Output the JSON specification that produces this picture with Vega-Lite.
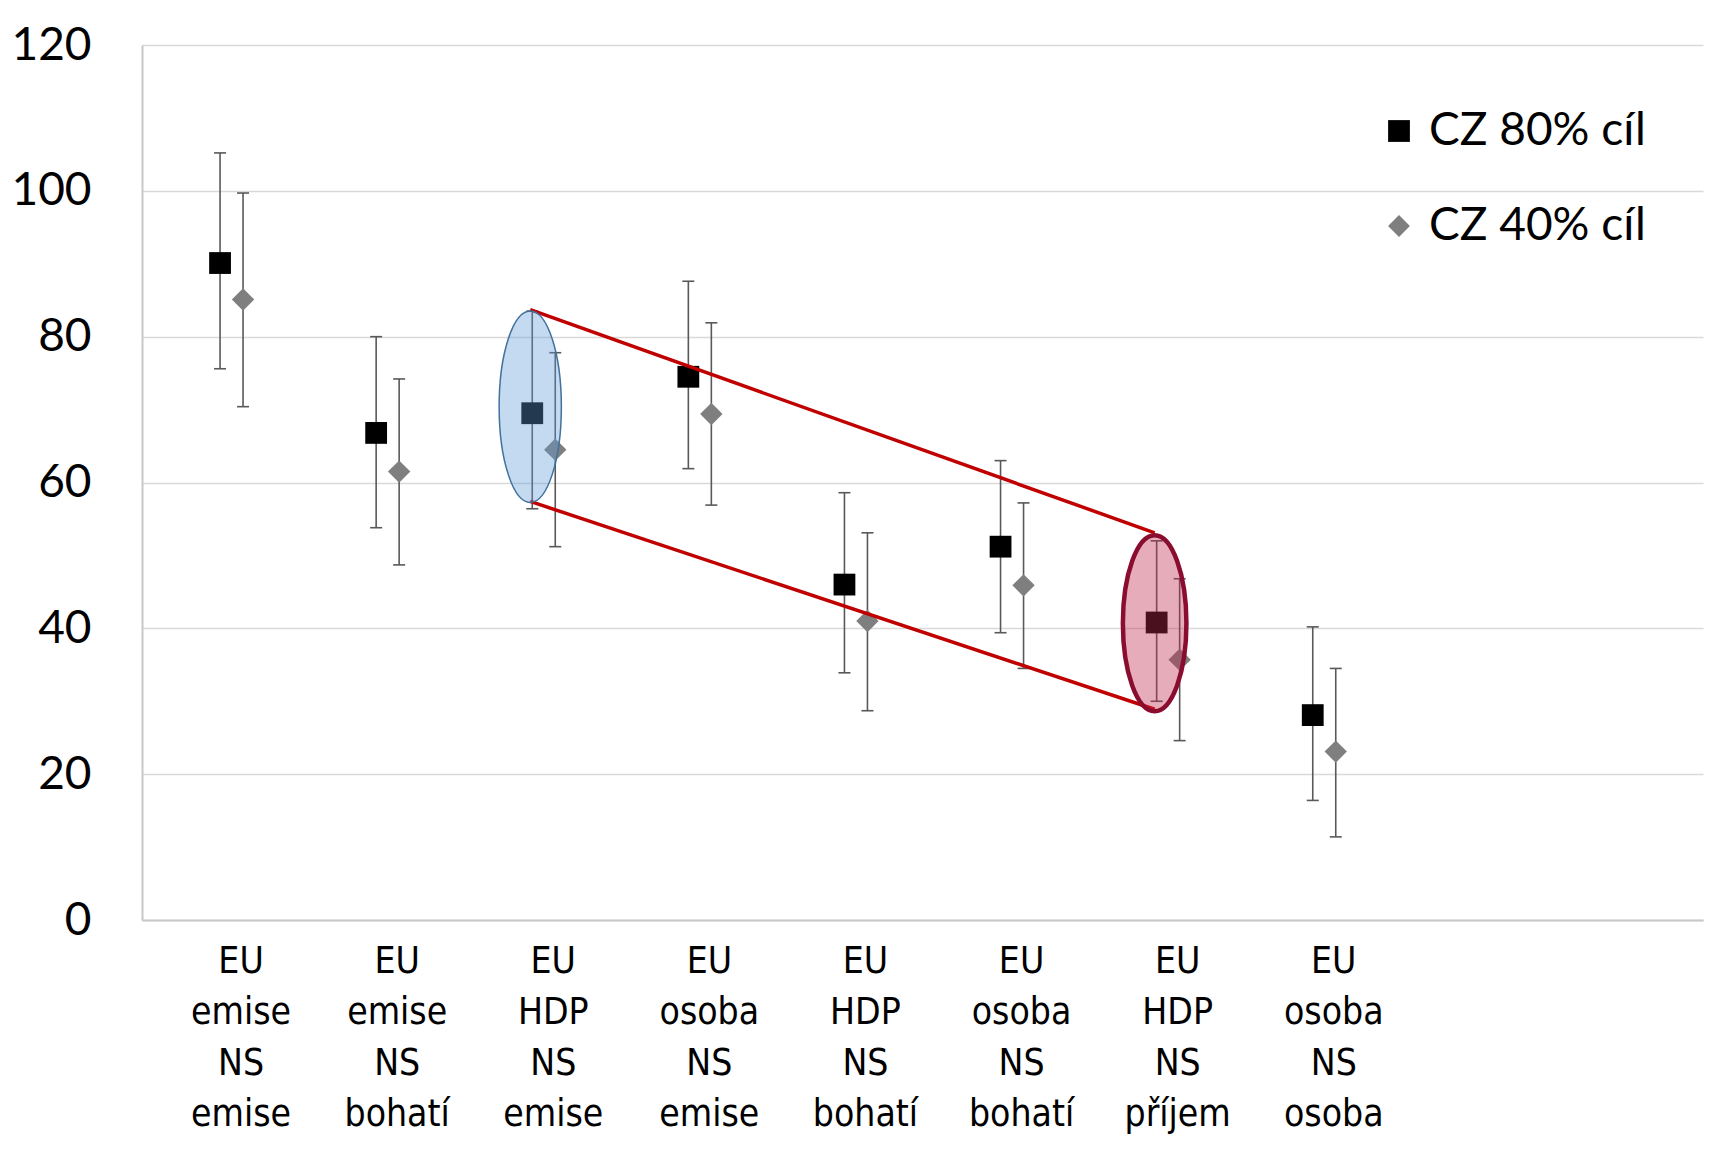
{
  "$schema": "https://vega.github.io/schema/vega-lite/v6.json",
  "autosize": "none",
  "width": 1561,
  "height": 875,
  "padding": {"left": 142, "top": 45, "right": 16, "bottom": 237},
  "background": "white",
  "config": {"view": {"stroke": null}},
  "datasets": {
    "body": [
      {"kat": "EU|emise|NS|emise", "rada": "CZ 80% cíl", "stred": 90.1, "lo": 75.6, "hi": 105.2},
      {"kat": "EU|emise|NS|bohatí", "rada": "CZ 80% cíl", "stred": 66.8, "lo": 53.8, "hi": 80.0},
      {"kat": "EU|HDP|NS|emise", "rada": "CZ 80% cíl", "stred": 69.5, "lo": 56.4, "hi": 83.5},
      {"kat": "EU|osoba|NS|emise", "rada": "CZ 80% cíl", "stred": 74.5, "lo": 61.9, "hi": 87.6},
      {"kat": "EU|HDP|NS|bohatí", "rada": "CZ 80% cíl", "stred": 46.0, "lo": 33.9, "hi": 58.6},
      {"kat": "EU|osoba|NS|bohatí", "rada": "CZ 80% cíl", "stred": 51.2, "lo": 39.4, "hi": 63.0},
      {"kat": "EU|HDP|NS|příjem", "rada": "CZ 80% cíl", "stred": 40.8, "lo": 30.0, "hi": 52.0},
      {"kat": "EU|osoba|NS|osoba", "rada": "CZ 80% cíl", "stred": 28.1, "lo": 16.4, "hi": 40.2},
      {"kat": "EU|emise|NS|emise", "rada": "CZ 40% cíl", "stred": 85.1, "lo": 70.4, "hi": 99.7},
      {"kat": "EU|emise|NS|bohatí", "rada": "CZ 40% cíl", "stred": 61.5, "lo": 48.7, "hi": 74.2},
      {"kat": "EU|HDP|NS|emise", "rada": "CZ 40% cíl", "stred": 64.5, "lo": 51.2, "hi": 77.8},
      {"kat": "EU|osoba|NS|emise", "rada": "CZ 40% cíl", "stred": 69.4, "lo": 56.9, "hi": 81.9},
      {"kat": "EU|HDP|NS|bohatí", "rada": "CZ 40% cíl", "stred": 41.0, "lo": 28.7, "hi": 53.1},
      {"kat": "EU|osoba|NS|bohatí", "rada": "CZ 40% cíl", "stred": 45.9, "lo": 34.5, "hi": 57.2},
      {"kat": "EU|HDP|NS|příjem", "rada": "CZ 40% cíl", "stred": 35.7, "lo": 24.6, "hi": 46.8},
      {"kat": "EU|osoba|NS|osoba", "rada": "CZ 40% cíl", "stred": 23.1, "lo": 11.4, "hi": 34.5}
    ],
    "elipsy": [
      {"kat": "EU|HDP|NS|emise", "typ": "modra", "stred": 70.4},
      {"kat": "EU|HDP|NS|příjem", "typ": "cervena", "stred": 40.7}
    ],
    "spojnice": [
      {"hrana": "horni", "kat": "EU|HDP|NS|emise", "y": 83.7},
      {"hrana": "horni", "kat": "EU|HDP|NS|příjem", "y": 53.1},
      {"hrana": "dolni", "kat": "EU|HDP|NS|emise", "y": 57.4},
      {"hrana": "dolni", "kat": "EU|HDP|NS|příjem", "y": 28.9}
    ]
  },
  "encoding": {
    "x": {
      "field": "kat",
      "type": "nominal",
      "sort": null,
      "scale": {
        "type": "band",
        "domain": ["EU|emise|NS|emise", "EU|emise|NS|bohatí", "EU|HDP|NS|emise", "EU|osoba|NS|emise", "EU|HDP|NS|bohatí", "EU|osoba|NS|bohatí", "EU|HDP|NS|příjem", "EU|osoba|NS|osoba", "9", "10"],
        "paddingInner": 0,
        "paddingOuter": 0
      },
      "axis": {
        "title": null,
        "labelAngle": 0,
        "labelExpr": "indexof(datum.value, '|') < 0 ? '' : split(datum.value, '|')",
        "labelFont": "DejaVu Sans Condensed, Liberation Sans Narrow, sans-serif",
        "labelFontSize": 37,
        "labelLineHeight": 51,
        "labelBaseline": "top",
        "labelPadding": 23,
        "labelOffset": 21,
        "labelColor": "#000000",
        "labelLimit": 0,
        "labelOverlap": false,
        "ticks": false,
        "grid": false,
        "domainColor": "#c8c8c8",
        "domainWidth": 2
      }
    }
  },
  "layer": [
    {
      "data": {"name": "body"},
      "transform": [{"filter": "datum.rada == 'CZ 80% cíl'"}],
      "mark": {"type": "rule", "color": "#595959", "strokeWidth": 1.6},
      "encoding": {
        "y": {
          "field": "lo",
          "type": "quantitative",
          "scale": {"domain": [0, 120], "nice": false, "zero": true},
          "axis": {
            "title": null,
            "values": [0, 20, 40, 60, 80, 100, 120],
            "labelFont": "Lato",
            "labelFontSize": 46,
            "labelColor": "#000000",
            "labelPadding": 51,
            "labelFlush": false,
            "ticks": false,
            "gridColor": "#d9d9d9",
            "gridWidth": 1.5,
            "domainColor": "#c8c8c8",
            "domainWidth": 2
          }
        },
        "y2": {"field": "hi"}
      }
    },
    {
      "data": {"name": "body"},
      "transform": [{"filter": "datum.rada == 'CZ 40% cíl'"}],
      "mark": {"type": "rule", "color": "#595959", "strokeWidth": 1.6, "xOffset": 23},
      "encoding": {
        "y": {"field": "lo", "type": "quantitative"},
        "y2": {"field": "hi"}
      }
    },
    {
      "data": {"name": "body"},
      "transform": [
        {"filter": "datum.rada == 'CZ 80% cíl'"},
        {"fold": ["lo", "hi"], "as": ["mez", "hodnota"]}
      ],
      "mark": {"type": "tick", "orient": "horizontal", "size": 12, "thickness": 1.6, "color": "#595959", "opacity": 1},
      "encoding": {"y": {"field": "hodnota", "type": "quantitative"}}
    },
    {
      "data": {"name": "body"},
      "transform": [
        {"filter": "datum.rada == 'CZ 40% cíl'"},
        {"fold": ["lo", "hi"], "as": ["mez", "hodnota"]}
      ],
      "mark": {"type": "tick", "orient": "horizontal", "size": 12, "thickness": 1.6, "color": "#595959", "opacity": 1, "xOffset": 23},
      "encoding": {"y": {"field": "hodnota", "type": "quantitative"}}
    },
    {
      "data": {"name": "body"},
      "transform": [{"filter": "datum.rada == 'CZ 80% cíl'"}],
      "mark": {"type": "point", "filled": true, "opacity": 1, "size": 475},
      "encoding": {
        "y": {"field": "stred", "type": "quantitative"},
        "color": {
          "field": "rada",
          "type": "nominal",
          "scale": {"domain": ["CZ 80% cíl", "CZ 40% cíl"], "range": ["#000000", "#7f7f7f"]},
          "legend": {
            "title": null,
            "orient": "none",
            "legendX": 1234,
            "legendY": 63,
            "padding": 0,
            "labelFont": "Lato",
            "labelFontSize": 46,
            "labelColor": "#000000",
            "labelOffset": 7,
            "labelLimit": 0,
            "rowPadding": 49,
            "symbolSize": 475,
            "symbolStrokeWidth": 0,
            "symbolOpacity": 1
          }
        },
        "shape": {
          "field": "rada",
          "type": "nominal",
          "scale": {"domain": ["CZ 80% cíl", "CZ 40% cíl"], "range": ["square", "diamond"]},
          "legend": {
            "title": null,
            "orient": "none",
            "legendX": 1234,
            "legendY": 63,
            "padding": 0,
            "labelFont": "Lato",
            "labelFontSize": 46,
            "labelColor": "#000000",
            "labelOffset": 7,
            "labelLimit": 0,
            "rowPadding": 49,
            "symbolSize": 475,
            "symbolStrokeWidth": 0,
            "symbolOpacity": 1
          }
        }
      }
    },
    {
      "data": {"name": "body"},
      "transform": [{"filter": "datum.rada == 'CZ 40% cíl'"}],
      "mark": {"type": "point", "filled": true, "opacity": 1, "size": 500, "xOffset": 23},
      "encoding": {
        "y": {"field": "stred", "type": "quantitative"},
        "color": {"field": "rada", "type": "nominal"},
        "shape": {"field": "rada", "type": "nominal"}
      }
    },
    {
      "data": {"name": "spojnice"},
      "mark": {"type": "line", "color": "#c00000", "strokeWidth": 3.5, "xOffset": -2},
      "encoding": {
        "y": {"field": "y", "type": "quantitative"},
        "detail": {"field": "hrana"}
      }
    },
    {
      "data": {"name": "elipsy"},
      "transform": [{"filter": "datum.typ == 'modra'"}],
      "mark": {
        "type": "point",
        "shape": "M0,-1A0.325,1,0,1,1,0,1A0.325,1,0,1,1,0,-1Z",
        "size": 36672,
        "filled": true,
        "fill": "#5b9bd5",
        "fillOpacity": 0.37,
        "stroke": "#41719c",
        "strokeWidth": 1.5,
        "strokeOpacity": 1,
        "opacity": 1,
        "xOffset": -2
      },
      "encoding": {"y": {"field": "stred", "type": "quantitative"}}
    },
    {
      "data": {"name": "elipsy"},
      "transform": [{"filter": "datum.typ == 'cervena'"}],
      "mark": {
        "type": "point",
        "shape": "M0,-1A0.361,1,0,1,1,0,1A0.361,1,0,1,1,0,-1Z",
        "size": 30976,
        "filled": true,
        "fill": "rgb(190,40,75)",
        "fillOpacity": 0.39,
        "stroke": "#8a0c2e",
        "strokeWidth": 4.5,
        "strokeOpacity": 1,
        "opacity": 1,
        "xOffset": -2
      },
      "encoding": {"y": {"field": "stred", "type": "quantitative"}}
    }
  ]
}
